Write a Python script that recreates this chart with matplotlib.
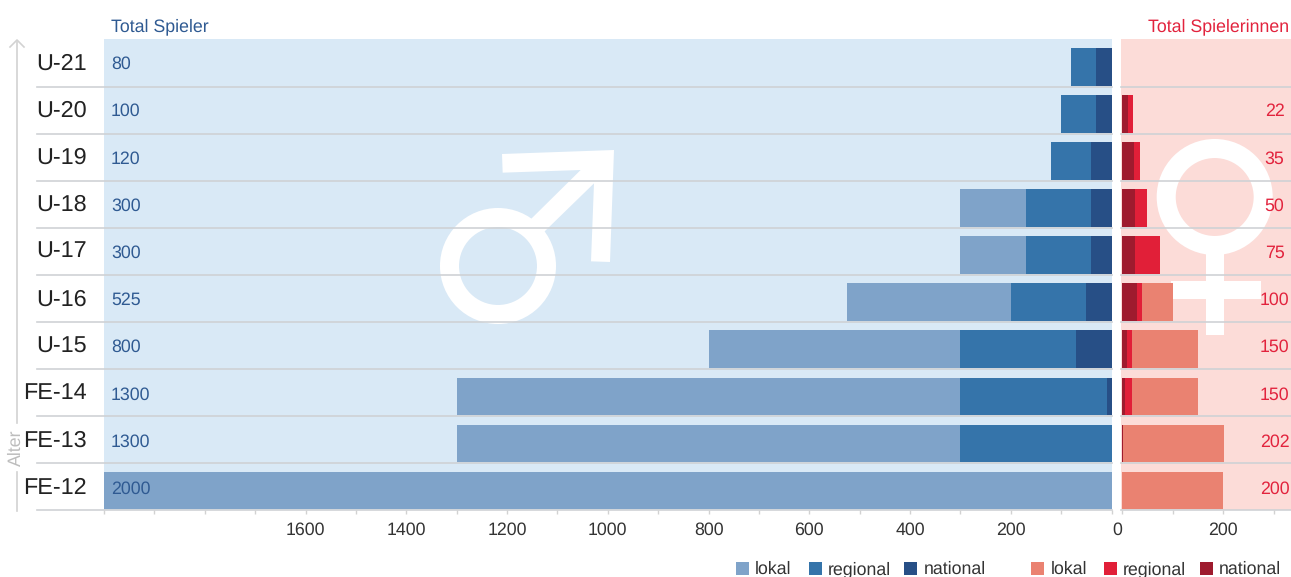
"""Players per age group and competition level, men on the left and women on the right."""

from __future__ import annotations

import matplotlib

matplotlib.use("Agg")

import matplotlib.pyplot as plt
from matplotlib.patches import Circle, Polygon, Rectangle

plt.rcParams["font.family"] = ["Liberation Sans", "DejaVu Sans"]
plt.rcParams["text.hinting"] = "no_hinting"

AGE_GROUPS = ["U-21", "U-20", "U-19", "U-18", "U-17", "U-16", "U-15", "FE-14", "FE-13", "FE-12"]

MEN_NATIONAL = [30, 30, 40, 40, 40, 50, 70, 10, 0, 0]
MEN_REGIONAL = [50, 70, 80, 130, 130, 150, 230, 290, 300, 0]
MEN_LOCAL = [0, 0, 0, 130, 130, 325, 500, 1000, 1000, 2000]

WOMEN_NATIONAL = [0, 11, 24, 25, 25, 30, 10, 6, 2, 0]
WOMEN_REGIONAL = [0, 11, 11, 25, 50, 10, 10, 14, 0, 0]
WOMEN_LOCAL = [0, 0, 0, 0, 0, 60, 130, 130, 200, 200]

MEN_TICKS = list(range(0, 2001, 100))
MEN_TICK_LABELS = [1600, 1400, 1200, 1000, 800, 600, 400, 200]
WOMEN_TICKS = [0, 100, 200, 300]
WOMEN_TICK_LABELS = [200]

WIDTH, HEIGHT = 1291, 577
TOP, ROW_HEIGHT = 39.4, 47.1
BOTTOM = TOP + ROW_HEIGHT * len(AGE_GROUPS)
MEN_LEFT, MEN_RIGHT = 104, 1112
WOMEN_LEFT, WOMEN_RIGHT = 1122, 1291

MEN_COLORS = ["#274f86", "#3574aa", "#7fa3c9"]
WOMEN_COLORS = ["#9e1b2e", "#e11f38", "#ea8271"]
MEN_TEXT = "#2f5a92"
WOMEN_TEXT = "#e2233d"
DARK_TEXT = "#222222"
RULE = "#cfd2d5"
ALTER = "#d2d2d2"
FONT = 12.8


def axes_from_pixels(fig, left, right):
    return fig.add_axes(
        [left / WIDTH, 1 - BOTTOM / HEIGHT, (right - left) / WIDTH, (BOTTOM - TOP) / HEIGHT]
    )


def total_baseline(row):
    # totals sit on a slightly wider pitch than the rows
    return (69 + 47.2 * row - TOP) / ROW_HEIGHT


def draw_backdrop(ax):
    ax.set_xlim(0, WIDTH)
    ax.set_ylim(HEIGHT, 0)
    ax.axis("off")

    ax.add_patch(Rectangle((MEN_LEFT, TOP), MEN_RIGHT - MEN_LEFT, BOTTOM - TOP, color="#d9e9f6", lw=0))
    ax.add_patch(Rectangle((WOMEN_LEFT - 1, TOP), WOMEN_RIGHT - WOMEN_LEFT + 1, BOTTOM - TOP, color="#fcdcd8", lw=0))

    # male sign
    ax.add_patch(Circle((498, 266), 48.5, fill=False, ec="white", lw=13.7))
    arrow = [(246, 72), (582, 60), (570, 396), (513, 394), (522, 160), (372, 306),
             (328, 272), (482, 120), (248, 128)]
    ax.add_patch(Polygon([(420 + x / 3, 130 + y / 3) for x, y in arrow], color="white", lw=0))

    # female sign
    ax.add_patch(Circle((1214.7, 197), 48.5, fill=False, ec="white", lw=13.7))
    ax.add_patch(Rectangle((1205.7, 250), 18.6, 85, color="white", lw=0))
    ax.add_patch(Rectangle((1171, 280.7), 89.7, 18, color="white", lw=0))

    for row in range(1, len(AGE_GROUPS) + 1):
        y = TOP + ROW_HEIGHT * row
        ax.plot([37, MEN_RIGHT], [y, y], color=RULE, lw=1.2)
        ax.plot([WOMEN_LEFT - 1, WOMEN_RIGHT], [y, y], color=RULE, lw=1.2)

    # age axis running upwards, broken by its label
    ax.plot([17, 17], [42, 423], color=ALTER, lw=1.2)
    ax.plot([17, 17], [472, 511], color=ALTER, lw=1.2)
    ax.plot([10, 17, 24], [47, 40, 47], color=ALTER, lw=1.2)
    ax.text(16.5, 448, "Alter", color="#bdbdbd", fontsize=FONT, rotation=90, ha="center", va="center")

    for row, name in enumerate(AGE_GROUPS):
        ax.text(87, TOP + ROW_HEIGHT * row + 30.4, name, color=DARK_TEXT, fontsize=16.8, ha="right", va="baseline")

    ax.text(111, 31.5, "Total Spieler", color=MEN_TEXT, fontsize=FONT, va="baseline")
    ax.text(1289.5, 31.5, "Total Spielerinnen", color=WOMEN_TEXT, fontsize=FONT, ha="right", va="baseline")
    ax.text(1117, 535, "0", color="#333333", fontsize=FONT, ha="center", va="baseline")


def draw_legend(ax, entries, colors):
    for (box_x, text_x, label), color in zip(entries, colors):
        ax.add_patch(Rectangle((box_x, 562), 13, 13, color=color, lw=0))
        ax.text(text_x, 574, label, color="#333333", fontsize=FONT, va="baseline")


def draw_panel(ax, national, regional, local, colors):
    rows = [i + 0.18 for i in range(len(AGE_GROUPS))]
    left = [0] * len(rows)
    for values, color in zip((national, regional, local), colors):
        ax.barh(rows, values, height=0.8, left=left, align="edge", color=color, lw=0)
        left = [a + b for a, b in zip(left, values)]
    ax.set_ylim(len(AGE_GROUPS), 0)
    ax.set_yticks([])
    ax.patch.set_alpha(0)
    for spine in ax.spines.values():
        spine.set_visible(False)
    ax.tick_params(axis="x", length=3, width=1, color=ALTER, pad=5, labelsize=FONT, labelcolor="#333333")
    return left


def set_ticks(ax, ticks, labelled):
    ax.set_xticks(ticks)
    ax.set_xticklabels([str(t) if t in labelled else "" for t in ticks])


fig = plt.figure(figsize=(WIDTH / 100, HEIGHT / 100), dpi=100)

backdrop = fig.add_axes([0, 0, 1, 1])
draw_backdrop(backdrop)
draw_legend(backdrop, [(736, 755, "lokal"), (809, 828, "regional"), (904, 924, "national")],
            [MEN_COLORS[2], MEN_COLORS[1], MEN_COLORS[0]])
draw_legend(backdrop, [(1031, 1051, "lokal"), (1104, 1123, "regional"), (1200, 1219, "national")],
            [WOMEN_COLORS[2], WOMEN_COLORS[1], WOMEN_COLORS[0]])

men = axes_from_pixels(fig, MEN_LEFT, MEN_RIGHT - 0.4)
men_totals = draw_panel(men, MEN_NATIONAL, MEN_REGIONAL, MEN_LOCAL, MEN_COLORS)
men.set_xlim(2000, 0)
set_ticks(men, MEN_TICKS, MEN_TICK_LABELS)

women = axes_from_pixels(fig, WOMEN_LEFT, WOMEN_RIGHT)
women_totals = draw_panel(women, WOMEN_NATIONAL, WOMEN_REGIONAL, WOMEN_LOCAL, WOMEN_COLORS)
women.set_xlim(0, (WOMEN_RIGHT - WOMEN_LEFT) / 0.505)
set_ticks(women, WOMEN_TICKS, WOMEN_TICK_LABELS)

for row, total in enumerate(men_totals):
    men.text(0.007, total_baseline(row), str(total), transform=men.get_yaxis_transform(),
             color=MEN_TEXT, fontsize=FONT, va="baseline")
for row, total in enumerate(women_totals):
    if total:
        women.text(0.9024, total_baseline(row), str(total), transform=women.get_yaxis_transform(),
                   color=WOMEN_TEXT, fontsize=FONT, ha="center", va="baseline")

fig.savefig("out.png", dpi=100)
plt.close(fig)
